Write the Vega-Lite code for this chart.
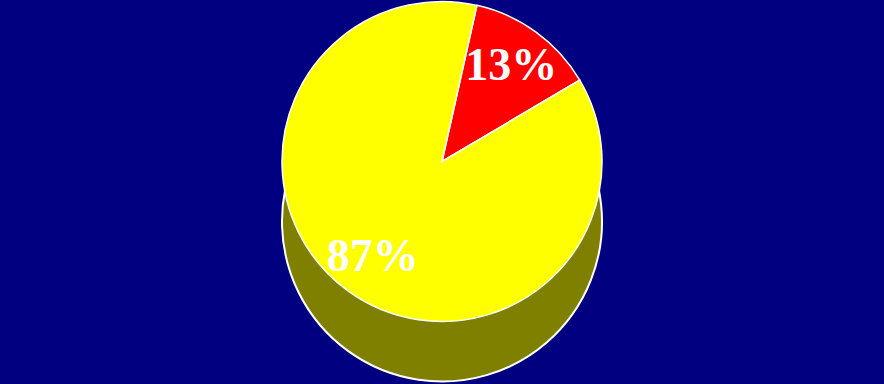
{
  "$schema": "https://vega.github.io/schema/vega-lite/v6.json",
  "width": 884,
  "height": 384,
  "autosize": {"type": "fit", "contains": "padding"},
  "padding": 0,
  "background": "#000080",
  "config": {"view": {"stroke": null}},
  "data": {
    "values": [
      {"segment": "13%", "value": 13},
      {"segment": "87%", "value": 87}
    ]
  },
  "encoding": {
    "theta": {
      "field": "value",
      "type": "quantitative",
      "stack": true,
      "scale": {"range": [0.22, 6.5032]}
    },
    "order": {"field": "value", "sort": "ascending"}
  },
  "layer": [
    {
      "mark": {
        "type": "arc",
        "radius": 160,
        "color": "#808000",
        "stroke": "white",
        "strokeWidth": 2,
        "yOffset": 30
      }
    },
    {
      "mark": {
        "type": "arc",
        "radius": 160,
        "stroke": "white",
        "strokeWidth": 1.5,
        "yOffset": -30
      },
      "encoding": {
        "color": {
          "field": "segment",
          "type": "nominal",
          "scale": {"domain": ["13%", "87%"], "range": ["#FF0000", "#FFFF00"]},
          "legend": null
        }
      }
    },
    {
      "mark": {
        "type": "text",
        "radius": 118,
        "yOffset": -30,
        "font": "Liberation Serif",
        "fontWeight": "bold",
        "fontSize": 46,
        "fill": "white"
      },
      "encoding": {
        "text": {"field": "segment", "type": "nominal"}
      }
    }
  ]
}
